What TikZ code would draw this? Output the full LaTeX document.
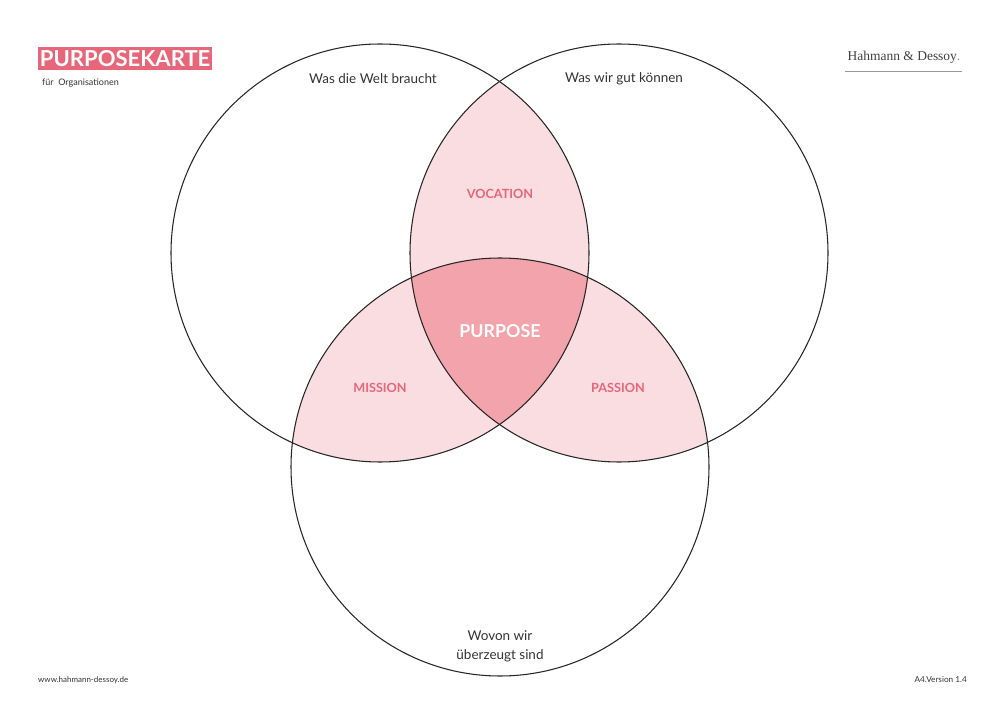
\documentclass[tikz,border=0pt]{standalone}
\usepackage{fontspec}
\setmainfont{Lato}
\newfontfamily\brandfont{Liberation Serif}
\usepackage{tikz}
\usepackage{xcolor}
\usetikzlibrary{positioning}

\definecolor{hdred}{HTML}{E8667A}
\definecolor{hdlight}{HTML}{F9DDE1}
\definecolor{hddark}{HTML}{F2A3AB}
\definecolor{hdtext}{HTML}{333333}

\begin{document}
\begin{tikzpicture}[
    x=0.03cm, y=-0.03cm,
    ring/.style={draw=black!85, line width=0.9pt},
    field/.style={font=\fontsize{11.5}{16.5}\selectfont, text=hdtext, align=center},
    overlap/.style={font=\fontsize{10.8}{12}\selectfont\bfseries, text=hdred},
    small/.style={font=\fontsize{7}{8}\selectfont, text=hdtext, inner sep=0pt}
]
\useasboundingbox (0,0) rectangle (1000,708);

% Circle centres
\coordinate (welt) at (380,253);
\coordinate (koennen) at (619,253);
\coordinate (ueberzeugt) at (500,467);

% Overlaps
\begin{scope}
    \clip (welt) circle [radius=209];
    \fill[hdlight] (koennen) circle [radius=209];
    \fill[hdlight] (ueberzeugt) circle [radius=209];
\end{scope}
\begin{scope}
    \clip (koennen) circle [radius=209];
    \fill[hdlight] (ueberzeugt) circle [radius=209];
    \clip (welt) circle [radius=209];
    \fill[hddark] (ueberzeugt) circle [radius=209];
\end{scope}

% Circles
\draw[ring] (welt) circle [radius=209];
\draw[ring] (koennen) circle [radius=209];
\draw[ring] (ueberzeugt) circle [radius=209];

% Circle labels
\node[field] (weltlabel) at (373,79) {Was die Welt braucht};
\node[field] (koennenlabel) at (624,79) {Was wir gut können};
\node[field] (ueberzeugtlabel) at (500,646) {Wovon wir\\überzeugt sind};

% Overlap labels
\node[overlap] (vocation) at (500,194) {VOCATION};
\node[overlap] (mission) at (380,388) {MISSION};
\node[overlap] (passion) at (618,388) {PASSION};
\node[font=\fontsize{15.2}{17}\selectfont\bfseries, text=white] (purpose) at (500,331) {PURPOSE};

% Header
\node[fill=hdred, text=white, font=\fontsize{18.8}{20}\selectfont\bfseries, anchor=west,
      inner xsep=1.5pt, inner ysep=0pt, minimum height=23*0.03cm] (title) at (38,58.5) {PURPOSEKARTE};
\node[font=\fontsize{7.7}{9}\selectfont, text=hdtext, inner sep=0pt, anchor=west] (subtitle) at (42,83) {für\ \ Organisationen};

% Brand
\node[font=\brandfont\fontsize{11.5}{13}\selectfont, text=black!75] (brand) at (904,57) {Hahmann \& Dessoy\textcolor{hdred}{.}};
\coordinate (rulestart) at (845,71);
\coordinate (ruleend) at (962,71);
\draw[black!40, line width=0.8pt] (rulestart) -- (ruleend);

% Footer
\node[font=\fontsize{6.8}{8}\selectfont, text=hdtext, inner sep=0pt, anchor=west] (web) at (38,680) {www.hahmann-dessoy.de};
\node[small, anchor=east] (version) at (967,680) {A4.Version 1.4};

\end{tikzpicture}
\end{document}
